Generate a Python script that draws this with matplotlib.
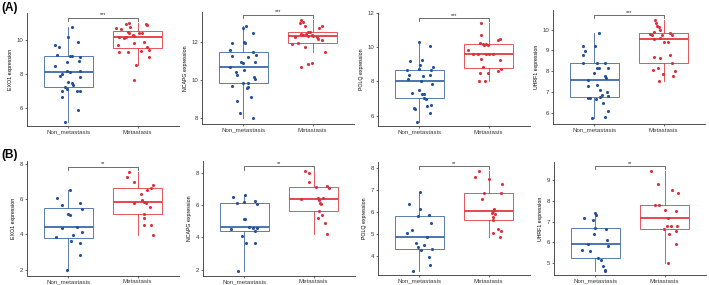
import matplotlib.pyplot as plt

plt.rcParams['font.family'] = ['Liberation Sans', 'DejaVu Sans']

groups = ["Non_metastasis", "Metastasis"]
genes = ["EXO1", "NCAPG", "POLQ", "UHRF1"]
sig_a = "***"
sig_b = "**"

# ---- row (A) ----
a_exo1_non = [10.78, 10.2, 9.71, 9.61, 9.9, 9.12, 9.06, 9.06, 9.02, 8.78, 8.73, 8.47, 8.2, 8.14,
              8.18, 8.0, 7.88, 7.84, 7.55, 7.49, 7.25, 7.35, 7.1, 7.02, 7.02, 7.0, 6.67, 5.88, 5.2]
a_exo1_non_jit = [0.05, 0.0, -0.19, -0.14, 0.14, -0.17, 0.02, 0.05, 0.17, 0.15, -0.02, -0.19, -0.02, 0.02,
                  0.17, -0.1, -0.12, 0.17, 0.0, 0.05, -0.05, 0.07, -0.02, 0.12, 0.17, -0.1, -0.1, 0.14, -0.05]
a_exo1_met = [11.02, 10.94, 10.78, 10.94, 10.88, 10.69, 10.63, 10.49, 10.39, 10.39, 10.43, 10.2, 10.29, 10.24,
              10.1, 10.16, 9.9, 9.8, 9.71, 9.31, 9.31, 9.61, 9.41, 9.37, 9.02, 8.53, 7.65]
a_exo1_met_jit = [-0.12, -0.17, -0.11, 0.12, 0.14, -0.31, -0.24, -0.14, -0.12, 0.02, 0.07, -0.27, -0.07, -0.05,
                  -0.19, -0.17, 0.1, -0.05, -0.29, -0.27, -0.14, 0.14, 0.17, 0.05, 0.17, -0.02, -0.05]

a_ncapg_non = [12.82, 12.7, 12.47, 12.0, 11.95, 11.91, 11.57, 11.48, 11.3, 11.25, 11.22, 10.96, 10.9, 10.96,
               10.7, 10.52, 10.43, 10.26, 10.14, 10.03, 9.86, 9.86, 9.69, 9.62, 9.57, 9.1, 8.92, 8.3, 8.0]
a_ncapg_non_jit = [0.03, -0.01, 0.14, 0.01, 0.02, -0.16, -0.19, 0.14, 0.18, -0.16, 0.06, -0.04, -0.01, 0.16,
                   -0.19, 0.01, -0.11, -0.09, 0.15, 0.16, -0.01, 0.06, -0.16, 0.06, 0.05, 0.11, -0.09, -0.05, 0.14]
a_ncapg_met = [13.13, 13.04, 12.96, 12.82, 12.83, 12.7, 12.52, 12.52, 12.38, 12.33, 12.38, 12.3, 12.35,
               12.3, 12.26, 12.23, 12.12, 12.09, 11.91, 11.74, 11.88, 11.44, 10.9, 10.83, 10.7]
a_ncapg_met_jit = [-0.17, -0.14, -0.18, -0.11, 0.13, 0.09, -0.06, -0.04, -0.16, -0.14, -0.09, -0.07, -0.01,
                   0.01, -0.26, 0.06, 0.08, 0.13, -0.21, -0.11, -0.3, 0.18, -0.01, -0.06, -0.16]

a_polq_non = [10.29, 10.04, 9.17, 9.22, 8.93, 8.74, 8.64, 8.83, 8.64, 8.35, 8.16, 8.29, 8.35, 8.02,
              7.86, 7.32, 7.48, 7.24, 7.24, 6.99, 7.05, 6.47, 6.41, 6.64, 6.54, 6.16, 5.63]
a_polq_non_jit = [0.0, 0.15, -0.14, 0.03, 0.01, -0.01, -0.18, 0.2, 0.16, -0.15, -0.17, 0.05, 0.15, 0.02,
                  0.18, -0.11, -0.01, 0.03, 0.07, 0.09, 0.07, -0.08, -0.07, 0.16, 0.11, 0.15, -0.03]
a_polq_met = [11.4, 10.68, 10.23, 10.19, 10.19, 10.1, 10.14, 10.43, 10.49, 9.84, 9.57, 9.57,
              9.57, 9.61, 9.61, 9.32, 9.22, 8.83, 8.49, 8.49, 8.7, 8.6, 8.0, 8.0]
a_polq_met_jit = [-0.11, -0.11, -0.13, -0.08, -0.03, -0.06, -0.01, 0.14, 0.16, -0.3, -0.23, -0.15,
                  -0.03, 0.01, 0.06, -0.11, 0.16, -0.08, -0.13, -0.01, 0.18, 0.13, -0.14, -0.05]

a_uhrf1_non = [9.82, 9.23, 9.23, 8.97, 8.78, 8.41, 8.41, 8.38, 8.17, 8.14, 8.14, 7.93, 7.77, 7.69, 7.57,
               7.3, 7.33, 7.12, 7.01, 6.85, 6.8, 6.69, 6.69, 6.66, 6.74, 6.45, 6.08, 5.78, 5.73]
a_uhrf1_non_jit = [0.06, -0.17, 0.01, -0.14, -0.16, -0.17, 0.03, 0.15, 0.2, 0.03, 0.06, -0.01, 0.15, 0.16, -0.09,
                   -0.1, 0.03, 0.08, 0.18, 0.11, 0.19, -0.09, -0.06, 0.02, 0.08, 0.12, 0.19, 0.15, -0.04]
a_uhrf1_met = [10.47, 10.34, 10.18, 10.14, 9.9, 9.98, 9.78, 9.74, 9.74, 9.82, 9.74, 9.55, 9.58,
               9.39, 9.42, 8.78, 8.67, 8.62, 8.38, 8.14, 8.06, 8.03, 7.86, 7.77, 7.54]
a_uhrf1_met_jit = [-0.12, -0.11, -0.1, -0.07, -0.14, -0.05, -0.19, -0.17, -0.02, 0.1, 0.12, -0.14, -0.05,
                   0.0, 0.06, 0.1, -0.14, -0.05, 0.12, -0.08, -0.15, 0.17, -0.01, 0.14, -0.06]

# ---- row (B) ----
b_exo1_non = [6.51, 6.09, 5.7, 5.81, 5.47, 5.15, 5.09, 4.37, 4.43, 4.14, 3.95, 3.86, 3.61, 3.54, 2.82, 1.97]
b_exo1_non_jit = [0.02, -0.16, -0.1, 0.17, 0.19, -0.01, 0.02, -0.1, 0.12, 0.19, 0.07, -0.18, 0.03, 0.16, 0.17, -0.02]
b_exo1_met = [7.59, 7.27, 7.02, 6.83, 6.64, 6.51, 6.32, 5.94, 5.85, 5.79, 5.79, 5.56, 5.19, 4.94, 4.52, 4.52, 3.95]
b_exo1_met_jit = [-0.12, -0.15, -0.05, 0.23, 0.2, 0.14, 0.05, 0.07, 0.1, -0.05, 0.12, 0.18, 0.09, 0.1, 0.1, 0.19, 0.22]

b_ncapg_non = [6.62, 6.54, 6.21, 6.12, 6.27, 6.06, 5.17, 5.17, 4.55, 4.67, 4.61, 4.57, 4.41, 4.1, 3.64, 3.68, 1.92]
b_ncapg_non_jit = [0.01, -0.16, -0.01, -0.11, 0.15, 0.18, -0.01, 0.01, -0.19, 0.07, 0.12, 0.18, 0.15, -0.04, 0.02, 0.15, -0.1]
b_ncapg_met = [8.11, 7.99, 7.45, 7.14, 7.2, 7.1, 6.41, 6.48, 6.48, 6.31, 6.12, 6.06, 5.65, 5.38, 5.23, 4.88, 4.24]
b_ncapg_met_jit = [-0.12, -0.07, -0.06, 0.03, 0.19, 0.22, -0.18, 0.06, 0.14, 0.08, 0.1, 0.11, 0.08, 0.12, 0.07, 0.17, 0.19]

b_polq_non = [6.9, 6.34, 6.15, 5.82, 5.85, 5.52, 5.19, 5.04, 4.59, 4.85, 4.5, 4.4, 4.28, 4.35, 3.95, 3.6, 3.35]
b_polq_non_jit = [0.01, -0.15, 0.01, -0.02, 0.14, 0.17, -0.11, -0.18, -0.05, 0.11, 0.07, -0.02, 0.02, 0.18, 0.14, 0.15, -0.09]
b_polq_met = [7.83, 7.59, 7.5, 7.27, 6.87, 6.84, 6.6, 6.15, 6.04, 5.9, 5.94, 5.79, 5.63, 5.25, 5.15, 5.04, 4.89]
b_polq_met_jit = [-0.14, -0.19, 0.01, 0.19, 0.18, -0.07, -0.09, 0.08, 0.06, 0.1, 0.05, 0.06, 0.07, 0.14, 0.18, 0.06, 0.17]

b_uhrf1_non = [7.4, 7.3, 7.19, 7.06, 6.71, 6.66, 6.39, 6.1, 5.91, 5.8, 5.64, 5.59, 5.22, 5.14, 4.87, 4.66, 4.63]
b_uhrf1_non_jit = [0.0, 0.01, -0.16, -0.03, -0.01, 0.15, -0.02, 0.17, -0.11, 0.18, -0.19, -0.08, 0.03, 0.08, 0.11, 0.14, 0.14]
b_uhrf1_met = [9.42, 8.79, 8.5, 8.36, 7.78, 7.78, 7.54, 7.51, 7.16, 6.76, 6.76, 6.79, 6.66, 6.55, 6.39, 5.91, 5.0]
b_uhrf1_met_jit = [-0.19, -0.09, 0.11, 0.19, -0.14, -0.08, 0.01, 0.17, 0.05, 0.03, 0.09, 0.18, -0.01, 0.16, 0.07, 0.16, 0.05]

# y ticks
a_yticks = [[6, 8, 10], [8, 10, 12], [6, 8, 10, 12], [6, 7, 8, 9, 10]]
b_yticks = [[2, 4, 6, 8], [2, 4, 6, 8], [4, 5, 6, 7, 8], [5, 6, 7, 8, 9]]
a_ylims = [(4.94, 11.59), (7.70, 13.56), (5.40, 12.0), (5.46, 10.95)]
b_ylims = [(1.66, 8.19), (1.63, 8.76), (3.16, 8.25), (4.42, 9.87)]

row_a = [(a_exo1_non, a_exo1_non_jit, a_exo1_met, a_exo1_met_jit),
         (a_ncapg_non, a_ncapg_non_jit, a_ncapg_met, a_ncapg_met_jit),
         (a_polq_non, a_polq_non_jit, a_polq_met, a_polq_met_jit),
         (a_uhrf1_non, a_uhrf1_non_jit, a_uhrf1_met, a_uhrf1_met_jit)]
row_b = [(b_exo1_non, b_exo1_non_jit, b_exo1_met, b_exo1_met_jit),
         (b_ncapg_non, b_ncapg_non_jit, b_ncapg_met, b_ncapg_met_jit),
         (b_polq_non, b_polq_non_jit, b_polq_met, b_polq_met_jit),
         (b_uhrf1_non, b_uhrf1_non_jit, b_uhrf1_met, b_uhrf1_met_jit)]

W, H = 709, 285
box_cols = ["#3f68ad", "#e2393f"]
pt_cols = ["#25509a", "#d9323a"]

# axes boxes in pixels: left, top, bottom
a_boxes = [(27, 13, 126), (202, 11.7, 124), (378, 12.7, 126), (553, 10, 124)]
b_boxes = [(27, 161, 275.5), (203, 161, 275.5), (378, 162, 275), (554, 162, 275)]

fig = plt.figure(figsize=(W / 100, H / 100), dpi=100)


def draw_panel(box, gene, panel, yticks, ylim, sig):
    left, top, bottom = box
    ax = fig.add_axes([left / W, 1 - bottom / H, 152 / W, (bottom - top) / H])
    non, non_j, met, met_j = panel
    bp = ax.boxplot([non, met], positions=[1, 2], widths=0.7, whis=1.5,
                    showfliers=False, showcaps=False, patch_artist=True)
    for i in range(2):
        bp['boxes'][i].set(facecolor='none', edgecolor=box_cols[i], linewidth=0.6)
        bp['medians'][i].set(color=box_cols[i], linewidth=1.3)
        for w in bp['whiskers'][2 * i:2 * i + 2]:
            w.set(color=box_cols[i], linewidth=0.6)
    for i, (vals, jit) in enumerate([(non, non_j), (met, met_j)]):
        xs = [i + 1 + j for j in jit]
        ax.scatter(xs, vals, s=5, color=pt_cols[i], zorder=3, linewidths=0)

    ax.set_xlim(0.4, 2.6)
    ax.set_ylim(*ylim)
    ax.set_xticks([1, 2])
    ax.set_xticklabels(groups)
    ax.set_yticks(yticks)

    # significance bracket
    allv = non + met
    rng = max(allv) - min(allv)
    yb = max(allv) + 0.05 * rng
    tick = 0.027 * (ylim[1] - ylim[0])
    ax.plot([1, 1, 2, 2], [yb - tick, yb, yb, yb - tick], color='#555555', lw=0.6)
    ax.text(1.5, yb + 0.005 * rng, sig, ha='center', va='bottom', fontsize=4, color='#222222')

    for s in ['top', 'right']:
        ax.spines[s].set_visible(False)
    for s in ['left', 'bottom']:
        ax.spines[s].set_linewidth(0.6)
        ax.spines[s].set_color('#333333')
    ax.tick_params(length=1.6, width=0.5, color='#333333', labelsize=4.4,
                   labelcolor='#3a3a3a', pad=1)
    ax.set_ylabel(gene + " expression", fontsize=3.8, labelpad=2.5)
    return ax


for k in range(4):
    draw_panel(a_boxes[k], genes[k], row_a[k], a_yticks[k], a_ylims[k], sig_a)
    draw_panel(b_boxes[k], genes[k], row_b[k], b_yticks[k], b_ylims[k], sig_b)

fig.text(1 / W, 1 - 8 / H, "(A)", fontsize=8.5, fontweight='bold', va='center', ha='left')
fig.text(1 / W, 1 - 155 / H, "(B)", fontsize=8.5, fontweight='bold', va='center', ha='left')

fig.savefig("out.png", dpi=100)
